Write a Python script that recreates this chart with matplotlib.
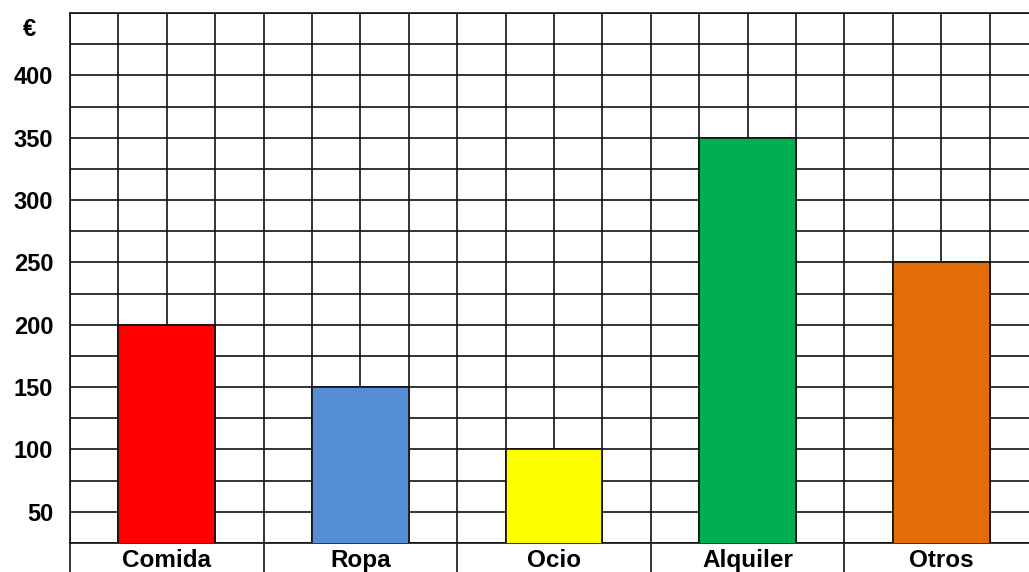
import numpy as np
import matplotlib
matplotlib.use("Agg")
import matplotlib.pyplot as plt
import matplotlib.transforms as mtransforms

plt.rcParams["font.family"] = ["Liberation Sans", "DejaVu Sans"]

categories = ["Comida", "Ropa", "Ocio", "Alquiler", "Otros"]
values = [200, 150, 100, 350, 250]
colors = ["#FF0000", "#558ED5", "#FFFF00", "#00B050", "#E36C09"]
y_labels = [50, 100, 150, 200, 250, 300, 350, 400]

W, H = 1029, 572
LINE = "#111111"
LW = 1.2

fig = plt.figure(figsize=(W / 100, H / 100), dpi=100)
fig.patch.set_facecolor("white")
# the plot area runs past the right edge so the last grid column is cut off
ax = fig.add_axes([70 / W, (H - 543) / H, 968 / W, 530 / H])
ax.set_xlim(0, len(categories))
ax.set_ylim(25, 450)

x = np.arange(len(categories)) + 0.5
ax.bar(x, values, width=0.5, color=colors, edgecolor=LINE, linewidth=LW, zorder=3)

# grid: 4 columns per category, one row every 25 €
ax.set_xticks(np.arange(0, len(categories) + 0.01, 0.25))
ax.set_xticklabels([])
ax.set_yticks(y_labels)
ax.set_yticklabels([str(v) for v in y_labels], fontsize=17, fontweight="bold")
ax.set_yticks(np.arange(25, 451, 25), minor=True)
ax.tick_params(axis="both", which="both", length=0)
ax.tick_params(axis="y", pad=12)
ax.grid(True, which="both", color=LINE, linewidth=LW, zorder=1)
ax.set_axisbelow(True)
for s in ax.spines.values():
    s.set_color(LINE)
    s.set_linewidth(LW)

trans = mtransforms.blended_transform_factory(ax.transData, ax.transAxes)
# label row under the plot: dividers only at category boundaries
for b in range(len(categories) + 1):
    ax.plot([b, b], [0, -0.08], color=LINE, linewidth=LW, transform=trans, clip_on=False)
for xi, name in zip(x, categories):
    ax.text(xi, -0.033, name, transform=trans, ha="center", va="center",
            fontsize=17.5, fontweight="bold")

ax.text(-0.042, 0.968, "€", transform=ax.transAxes, ha="center", va="center",
        fontsize=17, fontweight="bold")

fig.savefig("out.png", dpi=100, facecolor="white")
